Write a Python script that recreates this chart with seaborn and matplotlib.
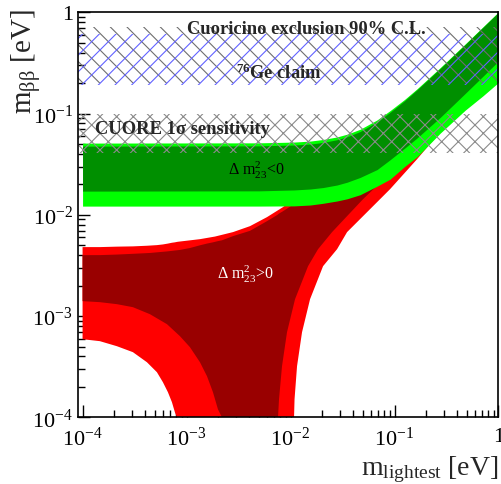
import matplotlib
matplotlib.use("Agg")
import matplotlib.pyplot as plt
import matplotlib.ticker as mticker
import seaborn as sns

# inverted hierarchy (Delta m2_23 < 0): m_lightest [eV] and m_bb bounds [eV]
ih_x = [1.0e-4, 0.005, 0.0108, 0.0155, 0.0206, 0.028, 0.035, 0.0467, 0.068, 0.0907, 0.125, 0.165, 0.2747, 0.4781, 0.71, 1.0]
ih_out_lo = [0.01219, 0.01220, 0.01225, 0.0125, 0.0130, 0.0137, 0.0144, 0.0158, 0.0192, 0.0225, 0.0300, 0.0375, 0.0640, 0.1080, 0.150, 0.203]
ih_out_hi = [0.0511, 0.0514, 0.0523, 0.0535, 0.0555, 0.0588, 0.0626, 0.0700, 0.0866, 0.107, 0.138, 0.176, 0.284, 0.487, 0.720, 1.01]
ih_in_lo = [0.01714, 0.01725, 0.01760, 0.0180, 0.0186, 0.0197, 0.0210, 0.0234, 0.0280, 0.0350, 0.0455, 0.0575, 0.0915, 0.158, 0.234, 0.330]
ih_in_hi = [0.0477, 0.0480, 0.0489, 0.0500, 0.0519, 0.0552, 0.0590, 0.0665, 0.0830, 0.1030, 0.134, 0.172, 0.279, 0.481, 0.712, 1.0]

# normal hierarchy (Delta m2_23 > 0), outer band (1e-5 = below the frame)
nh_out_x = [1.0e-4, 1.467e-4, 2.138e-4, 3.049e-4, 4.159e-4, 5.188e-4, 5.928e-4, 6.62e-4, 7.236e-4, 7.73e-4,
            8.08e-4, 8.26e-4, 1.346e-3, 1.876e-3, 2.797e-3, 4.076e-3, 5.94e-3, 8.47e-3, 0.01080,
            0.01081, 0.01093, 0.01155, 0.01290, 0.01541, 0.02055, 0.02803, 0.03498, 0.04665,
            0.06801, 0.09073, 0.1650, 0.2747, 0.4781, 1.0]
nh_out_lo = [5.91e-4, 5.65e-4, 5.04e-4, 4.40e-4, 3.50e-4, 2.79e-4, 2.22e-4, 1.77e-4, 1.41e-4, 1.12e-4,
             1.0e-4, 1e-5, 1e-5, 1e-5, 1e-5, 1e-5, 1e-5, 1e-5, 1e-5,
             1.0e-4, 1.51e-4, 3.20e-4, 6.93e-4, 1.469e-3, 3.11e-3, 4.58e-3, 6.75e-3, 9.07e-3,
             0.01335, 0.01795, 0.03551, 0.06566, 0.1159, 0.263]
nh_out_hi = [4.80e-3, 4.80e-3, 4.85e-3, 4.88e-3, 4.95e-3, 5.02e-3, 5.10e-3, 5.20e-3, 5.30e-3, 5.35e-3,
             5.40e-3, 5.42e-3, 5.75e-3, 6.10e-3, 6.75e-3, 7.73e-3, 9.49e-3, 0.01192, 0.0145,
             0.0145, 0.0146, 0.0150, 0.0160, 0.0180, 0.0230, 0.0300, 0.0370, 0.0480,
             0.0680, 0.0880, 0.160, 0.260, 0.460, 0.95]

# normal hierarchy, inner band
nh_in_x = [1.0e-4, 1.467e-4, 2.138e-4, 3.049e-4, 4.443e-4, 6.48e-4, 8.64e-4, 1.078e-3, 1.346e-3, 1.572e-3,
           1.795e-3, 2.005e-3, 2.19e-3, 2.24e-3, 2.797e-3, 4.076e-3, 5.94e-3, 7.50e-3, 7.58e-3,
           7.75e-3, 8.28e-3, 9.25e-3, 0.01105, 0.01474, 0.0184, 0.02508, 0.03498, 0.04986,
           0.113, 0.274, 1.0]
nh_in_lo = [1.404e-3, 1.372e-3, 1.311e-3, 1.224e-3, 1.044e-3, 8.32e-4, 6.33e-4, 4.93e-4, 3.50e-4, 2.55e-4,
            1.77e-4, 1.20e-4, 1.0e-4, 1e-5, 1e-5, 1e-5, 1e-5, 1e-5, 1.0e-4,
            1.51e-4, 3.20e-4, 6.93e-4, 1.469e-3, 3.11e-3, 4.58e-3, 6.75e-3, 9.71e-3, 0.01429,
            0.032, 0.080, 0.30]
nh_in_hi = [4.00e-3, 4.00e-3, 4.05e-3, 4.12e-3, 4.20e-3, 4.35e-3, 4.50e-3, 4.70e-3, 5.00e-3, 5.20e-3,
            5.35e-3, 5.50e-3, 5.60e-3, 5.65e-3, 6.16e-3, 6.95e-3, 8.66e-3, 0.0100, 0.0101,
            0.0103, 0.0107, 0.0115, 0.0130, 0.0160, 0.0190, 0.0250, 0.0340, 0.0460,
            0.100, 0.240, 0.85]

# experimental bands [eV]
cuoricino = [0.20, 0.72]
ge_claim = [0.19, 0.61]
cuore = [0.041, 0.10]

x_ticks = [1e-4, 1e-3, 1e-2, 1e-1, 1.0]
x_tick_labels = ["10$^{-4}$", "10$^{-3}$", "10$^{-2}$", "10$^{-1}$", "1"]
y_ticks = [1e-4, 1e-3, 1e-2, 1e-1, 1.0]
y_tick_labels = ["10$^{-4}$", "10$^{-3}$", "10$^{-2}$", "10$^{-1}$", "1"]

sns.set_style("ticks")
plt.rcParams["font.family"] = ["Liberation Serif", "DejaVu Sans"]
plt.rcParams["mathtext.default"] = "regular"
plt.rcParams["hatch.linewidth"] = 0.8

fig = plt.figure(figsize=(5.01, 4.85), dpi=100)
ax = fig.add_axes([0.1563, 0.1375, 0.8387, 0.835])

ax.fill_between(nh_out_x, nh_out_lo, nh_out_hi, color="#ff0000", lw=0)
ax.fill_between(nh_in_x, nh_in_lo, nh_in_hi, color="#990000", lw=0)
ax.fill_between(ih_x, ih_out_lo, ih_out_hi, color="#00ff00", lw=0)
ax.fill_between(ih_x, ih_in_lo, ih_in_hi, color="#008f00", lw=0)

ax.axhspan(cuoricino[0], cuoricino[1], facecolor="none", edgecolor="#6e6e6e", hatch="\\\\", lw=0)
ax.axhspan(ge_claim[0], ge_claim[1], facecolor="none", edgecolor="#6262ff", hatch="//", lw=0)
ax.axhspan(cuore[0], cuore[1], facecolor="none", edgecolor="#8a8a8a", hatch="xx", lw=0)

ax.set_xscale("log")
ax.set_yscale("log")
ax.set_xlim(9.1e-5, 1.0)
ax.set_ylim(1e-4, 1.0)

ax.set_xticks(x_ticks)
ax.set_xticklabels(x_tick_labels)
ax.set_yticks(y_ticks)
ax.set_yticklabels(y_tick_labels)
ax.xaxis.set_minor_locator(mticker.LogLocator(base=10, subs=range(2, 10), numticks=20))
ax.yaxis.set_minor_locator(mticker.LogLocator(base=10, subs=range(2, 10), numticks=20))
ax.xaxis.set_minor_formatter(mticker.NullFormatter())
ax.yaxis.set_minor_formatter(mticker.NullFormatter())
ax.tick_params(which="both", direction="in", top=False, right=False, width=1.0, colors="black")
ax.tick_params(which="major", length=8.5, labelsize=16)
ax.tick_params(which="minor", length=5)
ax.tick_params(axis="x", which="major", pad=7)
ax.tick_params(axis="y", which="major", pad=4)
for s in ax.spines.values():
    s.set_linewidth(1.2)
    s.set_color("black")

ax.set_xlabel("m$_{lightest}$ [eV]", fontsize=20, loc="right")
ax.xaxis.set_label_coords(1.0, -0.09)
ax.set_ylabel("m$_{\\beta\\beta}$ [eV]", fontsize=21, loc="top")
ax.yaxis.set_label_coords(-0.085, 1.01)

ax.text(0.543, 0.961, "Cuoricino exclusion 90% C.L.", transform=ax.transAxes,
        ha="center", va="center", fontsize=13.3, fontweight="bold")
ax.text(0.478, 0.853, "$^{76}$Ge claim", transform=ax.transAxes,
        ha="center", va="center", fontsize=13.3, fontweight="bold")
ax.text(0.040, 0.713, "CUORE 1σ sensitivity", transform=ax.transAxes,
        ha="left", va="center", fontsize=13.3, fontweight="bold")
ax.text(0.356, 0.600, "Δ m$^{2}_{23}$<0", transform=ax.transAxes,
        ha="left", va="baseline", fontsize=11.5, color="black")
ax.text(0.330, 0.344, "Δ m$^{2}_{23}$>0", transform=ax.transAxes,
        ha="left", va="baseline", fontsize=11.5, color="white")

fig.savefig("out.png", dpi=100)
